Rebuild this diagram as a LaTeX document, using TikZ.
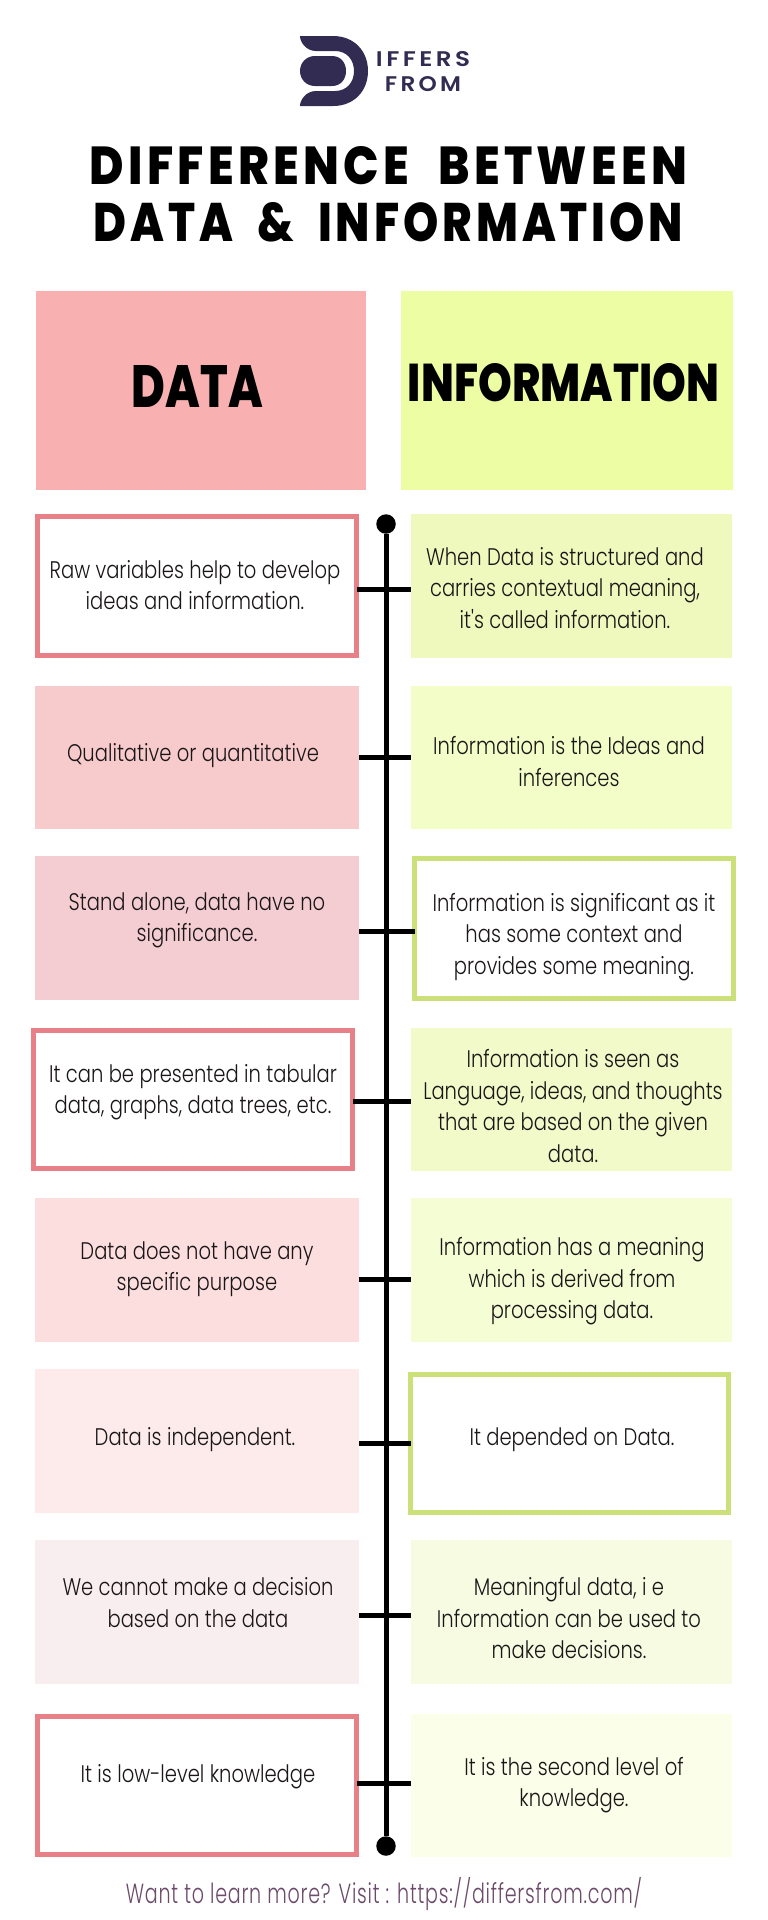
\documentclass[tikz,border=0pt]{standalone}
\usepackage{graphicx}
\usepackage{fontspec}
\setmainfont{Poppins}
\newfontfamily\bodyfont[FakeStretch=0.815]{Poppins Light}
\newfontfamily\footfont[LetterSpace=4]{Poppins Light}
\newfontfamily\titlefont[LetterSpace=9]{Poppins ExtraBold}
\newfontfamily\headfont{Poppins ExtraBold}
\newfontfamily\logofont[LetterSpace=14]{Poppins SemiBold}
\definecolor{pinkhead}{HTML}{F9B0B0}
\definecolor{limehead}{HTML}{ECFDA3}
\definecolor{pinkline}{HTML}{E88087}
\definecolor{limeline}{HTML}{CCE07A}
\definecolor{inktext}{HTML}{1A1618}
\definecolor{logoink}{HTML}{322C52}
\definecolor{footink}{HTML}{6B4A6A}
\definecolor{pb}{HTML}{F7CACB}
\definecolor{pc}{HTML}{F4CDD2}
\definecolor{pe}{HTML}{FDDEDF}
\definecolor{pf}{HTML}{FCEBEA}
\definecolor{pg}{HTML}{F9EEEF}
\definecolor{ga}{HTML}{EFF9BE}
\definecolor{gb}{HTML}{F3FDC8}
\definecolor{gd}{HTML}{F1FAC8}
\definecolor{ge}{HTML}{F5FDD5}
\definecolor{gg}{HTML}{F6FBE2}
\definecolor{gh}{HTML}{FBFEE8}
\tikzset{
  x=1pt,y=-1pt,
  panel/.style={inner sep=0pt,outer sep=0pt,anchor=center},
  outlinepink/.style={draw=pinkline,line width=5pt,fill=white,inner sep=0pt,outer sep=0pt},
  outlinelime/.style={draw=limeline,line width=5pt,fill=white,inner sep=0pt,outer sep=0pt},
  celltext/.style={font=\bodyfont\fontsize{24}{31.5}\selectfont,text=inktext,align=center,inner sep=0pt},
  spine/.style={draw=black,line width=5pt},
  tick/.style={draw=black,line width=5pt},
  enddot/.style={circle,fill=black,minimum size=19.5pt,inner sep=0pt},
}
% #1 name, #2 x0, #3 y0, #4 x1, #5 y1, #6 style
\newcommand{\cellbox}[6]{%
  \pgfmathsetmacro{\cwid}{#4-#2}\pgfmathsetmacro{\chei}{#5-#3}%
  \pgfmathsetmacro{\ccx}{(#2+#4)/2}\pgfmathsetmacro{\ccy}{(#3+#5)/2}%
  \node[panel,minimum width=\cwid pt,minimum height=\chei pt,#6] (#1) at (\ccx,\ccy) {};}
\begin{document}
\begin{tikzpicture}
\useasboundingbox (0,0) rectangle (768,1920);
\fill[white] (0,0) rectangle (768,1920);
% logo
\fill[logoink] (300,36) -- (333,36) .. controls (355,36) and (368,52) .. (368,71)
  .. controls (368,90) and (355,106) .. (333,106) -- (300,106)
  .. controls (300,100) and (306,91) .. (316,91) -- (335,91)
  .. controls (347,91) and (354,82) .. (354,71)
  .. controls (354,60) and (347,51) .. (335,51) -- (316,51)
  .. controls (306,51) and (300,42) .. (300,36) -- cycle;
\fill[logoink] (315,56) -- (332,56) .. controls (341,56) and (346,63) .. (346,71)
  .. controls (346,79) and (341,86) .. (332,86) -- (315,86)
  .. controls (306,86) and (300,79) .. (300,71)
  .. controls (300,63) and (306,56) .. (315,56) -- cycle;
\node[inner sep=0pt,text=logoink] (logoa) at (423,59.5) {\resizebox{94pt}{15pt}{\logofont IFFERS}};
\node[inner sep=0pt,text=logoink] (logob) at (423,84.5) {\resizebox{76pt}{15pt}{\logofont FROM}};
% title
\node[inner sep=0pt] (titlea) at (388.5,166) {\resizebox{597pt}{38pt}{\titlefont DIFFERENCE\hspace{0.35em} BETWEEN}};
\node[inner sep=0pt] (titleb) at (388.5,222.5) {\resizebox{589pt}{39pt}{\titlefont DATA\hspace{0.25em} \&\hspace{0.25em} INFORMATION}};
% headers
\cellbox{hd}{35.5}{291}{366}{490}{fill=pinkhead}
\cellbox{hi}{401}{291}{732.5}{490}{fill=limehead}
\node[inner sep=0pt] (hdt) at (197.5,386) {\resizebox{131pt}{42pt}{\headfont DATA}};
\node[inner sep=0pt] (hit) at (563.5,383) {\resizebox{311pt}{38pt}{\headfont INFORMATION}};
% rows: left
\cellbox{la}{37.5}{516.5}{356.5}{655.5}{outlinepink}
\cellbox{lb}{35}{686}{359}{829}{fill=pb}
\cellbox{lc}{35}{856}{359}{1000}{fill=pc}
\cellbox{ld}{33.5}{1030.5}{352.5}{1168.5}{outlinepink}
\cellbox{le}{35}{1198}{359}{1342}{fill=pe}
\cellbox{lf}{35}{1369}{359}{1513}{fill=pf}
\cellbox{lg}{35}{1540}{359}{1684}{fill=pg}
\cellbox{lh}{37.5}{1716.5}{356.5}{1854.5}{outlinepink}
% rows: right
\cellbox{ra}{411}{514}{732}{658}{fill=ga}
\cellbox{rb}{411}{686}{732}{829}{fill=gb}
\cellbox{rc}{414.5}{858.5}{733.5}{998.5}{outlinelime}
\cellbox{rd}{411}{1028}{732}{1171}{fill=gd}
\cellbox{re}{411}{1198}{732}{1342}{fill=ge}
\cellbox{rf}{410.5}{1374.5}{728.5}{1512.5}{outlinelime}
\cellbox{rg}{411}{1540}{732}{1684}{fill=gg}
\cellbox{rh}{411}{1714}{732}{1857}{fill=gh}
% spine
\node[enddot] (top) at (386,524) {};
\node[enddot] (bot) at (386,1846) {};
\draw[spine] (top) -- (bot);
% ticks
\coordinate (sa) at (386,589);
\coordinate (sb) at (386,757);
\coordinate (sc) at (386,931);
\coordinate (sd) at (386,1101);
\coordinate (se) at (386,1279);
\coordinate (sf) at (386,1443);
\coordinate (sg) at (386,1615);
\coordinate (sh) at (386,1783);
\foreach \l/\r/\s in {la/ra/sa,lb/rb/sb,lc/rc/sc,ld/rd/sd,le/re/se,lf/rf/sf,lg/rg/sg,lh/rh/sh}{
  \draw[tick] (\l.east |- \s) -- (\r.west |- \s);
}
% text
\node[celltext] (lat) at (195,585) {Raw variables help to develop\\ideas and information.};
\node[celltext] (lbt) at (193,755.5) {Qualitative or quantitative};
\node[celltext] (lct) at (197,920.5) {Stand alone, data have no\\significance.};
\node[celltext] (ldt) at (193,1092) {It can be presented in tabular\\data, graphs, data trees, etc.};
\node[celltext] (let) at (197,1269) {Data does not have any\\specific purpose};
\node[celltext] (lft) at (195,1439.5) {Data is independent.};
\node[celltext] (lgt) at (198,1602.5) {We cannot make a decision\\based on the data};
\node[celltext] (lht) at (198,1776.5) {It is low-level knowledge};
\node[celltext] (rat) at (565,588) {When Data is structured and\\carries contextual meaning,\\it's called information.};
\node[celltext] (rbt) at (569,761.5) {Information is the Ideas and\\inferences};
\node[celltext] (rct) at (574,937) {Information is significant as it\\has some context and\\provides some meaning.};
\node[celltext] (rdt) at (573,1106) {Information is seen as\\Language, ideas, and thoughts\\that are based on the given\\data.};
\node[celltext] (ret) at (572,1281.5) {Information has a meaning\\which is derived from\\processing data.};
\node[celltext] (rft) at (572,1439.5) {It depended on Data.};
\node[celltext] (rgt) at (569,1618) {Meaningful data, i e\\Information can be used to\\make decisions.};
\node[celltext] (rht) at (574,1785) {It is the second level of\\knowledge.};
% footer
\node[inner sep=0pt,text=footink] (foot) at (384,1894) {\resizebox{516pt}{!}{\footfont\scalebox{1}[1.45]{Want to learn more? Visit : https://differsfrom.com/}}};
\end{tikzpicture}
\end{document}
